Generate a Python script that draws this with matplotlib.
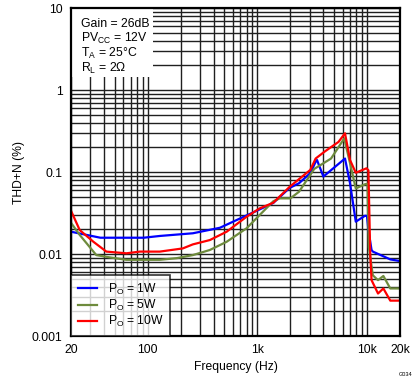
import numpy as np
import matplotlib
matplotlib.use("Agg")
import matplotlib.pyplot as plt
from matplotlib.ticker import FixedLocator, NullFormatter

plt.rcParams['font.family'] = ['Liberation Sans', 'DejaVu Sans']

# PO = 1W
f_1w = [20, 37, 92, 129, 258, 456, 1050, 1398, 1970, 2400, 3040, 3400, 3500, 4000, 6300,
        7000, 7900, 9600, 10000, 10300, 11000, 11300, 16300, 20000]
thd_1w = [0.0187, 0.0158, 0.0158, 0.0166, 0.0179, 0.0209, 0.035, 0.042, 0.064, 0.073, 0.097, 0.133,
          0.14, 0.088, 0.146, 0.073, 0.0248, 0.0293, 0.029, 0.0196, 0.0112, 0.0107, 0.0086, 0.0082]

# PO = 5W
f_5w = [20, 24, 34, 45, 64, 129, 184, 258, 369, 525, 798, 1050, 1398, 1600, 2000, 2400,
        3300, 4700, 6200, 7000, 7900, 9600, 10100, 10400, 11300, 12600, 14100, 16300, 20000]
thd_5w = [0.024, 0.0171, 0.0097, 0.0091, 0.0085, 0.0085, 0.0089, 0.0097, 0.0112, 0.0141,
          0.0206, 0.0299, 0.044, 0.0477, 0.0477, 0.0575, 0.109, 0.146, 0.257, 0.128, 0.063,
          0.071, 0.072, 0.012, 0.0055, 0.0048, 0.0054, 0.0038, 0.0038]

# PO = 10W
f_10w = [20, 24, 32, 42, 64, 85, 129, 209, 258, 369, 525, 798, 1050, 1398, 1970, 3040, 3400,
         4100, 5500, 6300, 7000, 7900, 9900, 10300, 10700, 11000, 12600, 14100, 16300, 20000]
thd_10w = [0.0337, 0.0196, 0.0141, 0.0107, 0.0102, 0.0107, 0.0107, 0.0117, 0.0131, 0.0148,
           0.0187, 0.0285, 0.036, 0.0422, 0.066, 0.106, 0.146, 0.177, 0.233, 0.297, 0.14,
           0.098, 0.111, 0.105, 0.01, 0.0048, 0.0033, 0.0038, 0.0027, 0.0027]

xticks = [20, 100, 1000, 10000, 20000]
xticklabels = ["20", "100", "1k", "10k", "20k"]
yticks = [0.001, 0.01, 0.1, 1, 10]
yticklabels = ["0.001", "0.01", "0.1", "1", "10"]
cond_lines = ["Gain = 26dB", "PV$_\\mathregular{CC}$ = 12V",
              "T$_\\mathregular{A}$ = 25°C", "R$_\\mathregular{L}$ = 2Ω"]

fig = plt.figure(figsize=(4.19, 3.82), dpi=100)
ax = fig.add_axes([0.1695, 0.1204, 0.7852, 0.8586])

ax.plot(f_1w, thd_1w, color="#0000ff", lw=1.6, label="P$_\\mathregular{O}$ = 1W", zorder=3)
ax.plot(f_5w, thd_5w, color="#6e8b3d", lw=1.6, label="P$_\\mathregular{O}$ = 5W", zorder=3)
ax.plot(f_10w, thd_10w, color="#ff0000", lw=1.6, label="P$_\\mathregular{O}$ = 10W", zorder=3)

ax.set_xscale("log")
ax.set_yscale("log")
ax.set_xlim(20, 20000)
ax.set_ylim(0.001, 10)

ax.xaxis.set_major_locator(FixedLocator(xticks))
ax.set_xticklabels(xticklabels)
ax.yaxis.set_major_locator(FixedLocator(yticks))
ax.set_yticklabels(yticklabels)

xminor = [m * 10 ** e for e in range(1, 5) for m in range(2, 10) if 20 <= m * 10 ** e <= 20000]
yminor = [m * 10.0 ** e for e in range(-3, 1) for m in range(2, 10)]
ax.xaxis.set_minor_locator(FixedLocator(xminor))
ax.yaxis.set_minor_locator(FixedLocator(yminor))
ax.xaxis.set_minor_formatter(NullFormatter())
ax.yaxis.set_minor_formatter(NullFormatter())

ax.grid(True, which="both", color="#202020", lw=1.0, zorder=1)
ax.tick_params(which="both", length=0, labelsize=8.7, pad=6)
for s in ax.spines.values():
    s.set_linewidth(1.6)
    s.set_zorder(5)

ax.set_xlabel("Frequency (Hz)", fontsize=8.7, labelpad=3)
ax.set_ylabel("THD+N (%)", fontsize=8.7, labelpad=5)

# white box behind the test conditions
ax.add_patch(plt.Rectangle((0, 0.79), 0.25, 0.21, transform=ax.transAxes,
                           fc="white", ec="none", zorder=4))
for i, t in enumerate(cond_lines):
    ax.text(0.03, 0.952 - i * 0.045, t, transform=ax.transAxes, fontsize=8.8,
            va="center", ha="left", zorder=5)

leg = ax.legend(loc="lower left", fontsize=8.7, frameon=True, fancybox=False,
                borderaxespad=0, handlelength=1.6, handletextpad=0.9,
                labelspacing=0.1, borderpad=0.55)
leg.get_frame().set_edgecolor("black")
leg.get_frame().set_linewidth(1.2)
leg.set_zorder(6)

fig.text(0.985, 0.012, "G034", fontsize=4, ha="right", va="bottom")

fig.savefig("out.png", dpi=100)
